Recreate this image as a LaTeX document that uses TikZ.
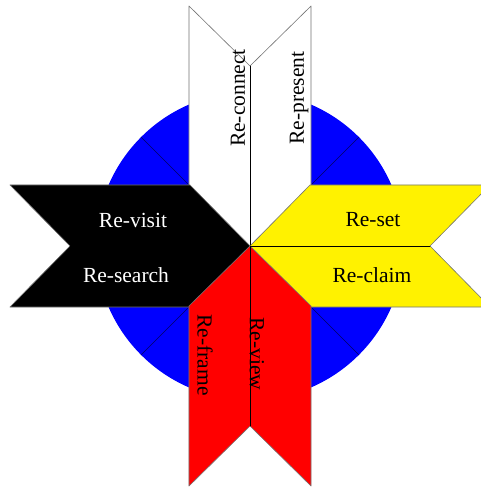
\documentclass[tikz,border=0pt]{standalone}
\usepackage{fontspec}
\setmainfont{Liberation Serif}
\begin{document}
\begin{tikzpicture}[x=1pt, y=1pt, line cap=round, line join=round,
  word/.style={font=\fontsize{21.5}{24}\selectfont, inner sep=0pt},
  edge/.style={draw=black!55, line width=0.6pt}]

% -----------------------
% Parameters
% -----------------------
\def\R{154}   % radius of the disc
\def\W{61}    % half width of an arm
\def\L{240}   % length of an arm
\def\T{60}    % depth of tip and notch

\useasboundingbox (-250,-241) rectangle (231,246);
\clip (-250,-241) rectangle (231,246);

% -----------------------
% Blue disc behind the arms
% -----------------------
\fill[blue] (0,0) circle (\R);
\foreach \a in {45,135,225,315}
  \draw[black!60!blue, line width=0.6pt] (0,0) -- (\a:\R);

% -----------------------
% Four chevron arms, tips meeting in the centre
% -----------------------
\foreach \ang/\col in {90/white,180/black,0/yellow,270/red}{
  \begin{scope}[rotate=\ang]
    \filldraw[edge, fill=\col] (0,0) -- (\T,\W) -- (\L,\W) -- (\L-\T,0)
      -- (\L,-\W) -- (\T,-\W) -- cycle;
    % split of the arm
    \draw[line width=0.8pt] (0,0) -- (\L-\T,0);
  \end{scope}
}

% -----------------------
% Labels
% -----------------------
\node[word, rotate=90] (connect) at (-12,148) {Re-connect};
\node[word, rotate=90] (present) at (49,148) {Re-present};

\node[word, text=white] (visit)  at (-117,26)  {Re-visit};
\node[word, text=white] (search) at (-124,-29) {Re-search};

\node[word] (set)   at (123,26)  {Re-set};
\node[word] (claim) at (122,-29) {Re-claim};

\node[word, rotate=-90] (frame) at (-45,-109) {Re-frame};
\node[word, rotate=-90] (view)  at (7,-108)   {Re-view};

\end{tikzpicture}
\end{document}
